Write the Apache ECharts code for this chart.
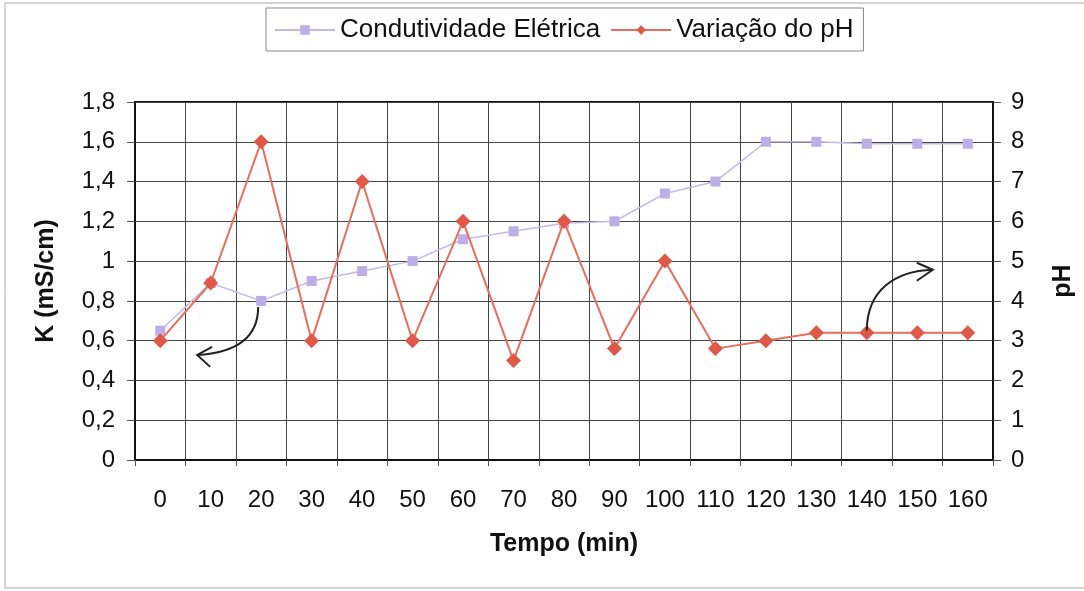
<!DOCTYPE html>
<html>
<head>
<meta charset="utf-8">
<script src="https://cdn.jsdelivr.net/npm/echarts@6/dist/echarts.min.js"></script>
<style>
html,body{margin:0;padding:0;background:#fff;}
#c{width:1084px;height:591px;}
</style>
</head>
<body>
<div id="c"></div>
<script>
const categories = ['0','10','20','30','40','50','60','70','80','90','100','110','120','130','140','150','160'];
const condutividade = [0.65,0.89,0.80,0.90,0.95,1.00,1.11,1.15,1.19,1.20,1.34,1.40,1.60,1.60,1.59,1.59,1.59];
const ph = [3.0,4.45,8.0,3.0,7.0,3.0,6.0,2.5,6.0,2.8,5.0,2.8,3.0,3.2,3.2,3.2,3.2];
const leftTicks = {min:0, max:1.8, interval:0.2};
const rightTicks = {min:0, max:9, interval:1};

const FONT = 'Liberation Sans, Arial, sans-serif';
const chart = echarts.init(document.getElementById('c'), null, {renderer:'canvas'});
const fmt = v => String(+v.toFixed(1)).replace('.', ',');

chart.setOption({
  animation:false,
  backgroundColor:'#fff',
  textStyle:{fontFamily:FONT},
  legend:{
    left:266, top:8,
    padding:[9,10,8,8],
    itemGap:10,
    itemWidth:60, itemHeight:12,
    borderColor:'#8a8a8a', borderWidth:1,
    textStyle:{fontFamily:FONT, fontSize:26, color:'#111'},
    data:['Condutividade Elétrica','Variação do pH']
  },
  grid:{left:135, right:91, top:102, bottom:131, show:true, borderColor:'#111', borderWidth:2, containLabel:false},
  xAxis:{
    type:'category', data:categories, boundaryGap:true,
    name:'Tempo (min)', nameLocation:'middle', nameGap:72,
    nameTextStyle:{fontFamily:FONT, fontSize:25, fontWeight:'bold', color:'#111'},
    axisLine:{lineStyle:{color:'#111', width:2}},
    axisTick:{show:true, interval:0, length:6, lineStyle:{color:'#555'}},
    axisLabel:{interval:0, fontFamily:FONT, fontSize:24, color:'#111', margin:28},
    splitLine:{show:true, interval:0, lineStyle:{color:'#444', width:1}}
  },
  yAxis:[{
    type:'value', min:leftTicks.min, max:leftTicks.max, interval:leftTicks.interval,
    name:'K (mS/cm)', nameLocation:'middle', nameGap:76, nameRotate:90,
    nameTextStyle:{fontFamily:FONT, fontSize:25, fontWeight:'bold', color:'#111'},
    axisLine:{show:true, lineStyle:{color:'#111', width:2}},
    axisTick:{show:true, length:8, lineStyle:{color:'#555'}},
    axisLabel:{fontFamily:FONT, fontSize:24, color:'#111', margin:20, formatter:fmt},
    splitLine:{show:true, lineStyle:{color:'#444', width:1}}
  },{
    type:'value', position:'right', min:rightTicks.min, max:rightTicks.max, interval:rightTicks.interval,
    name:'pH', nameLocation:'middle', nameGap:58, nameRotate:90,
    nameTextStyle:{fontFamily:FONT, fontSize:25, fontWeight:'bold', color:'#111'},
    axisLine:{show:true, lineStyle:{color:'#111', width:2}},
    axisTick:{show:true, length:8, lineStyle:{color:'#555'}},
    axisLabel:{fontFamily:FONT, fontSize:24, color:'#111', margin:18},
    splitLine:{show:false}
  }],
  series:[{
    name:'Condutividade Elétrica', type:'line', yAxisIndex:0, data:condutividade,
    symbol:'rect', symbolSize:10,
    itemStyle:{color:'#bcaee6'},
    lineStyle:{color:'#c4b8e6', width:1.5},
    z:3
  },{
    name:'Variação do pH', type:'line', yAxisIndex:1, data:ph,
    symbol:'diamond', symbolSize:15,
    itemStyle:{color:'#e05848'},
    lineStyle:{color:'#e86e5c', width:2},
    z:4
  }]
});

// Annotation arrows anchored on data points
const a1 = chart.convertToPixel({xAxisIndex:0, yAxisIndex:0}, [2, condutividade[2]]);
const a2 = chart.convertToPixel({xAxisIndex:0, yAxisIndex:1}, [14, ph[14]]);
const arrowStyle = {stroke:'#222', lineWidth:2, fill:null};
function arrow(p0, c1, c2, e, l1, l2){
  return [
    {type:'bezierCurve', shape:{x1:p0[0],y1:p0[1],cpx1:c1[0],cpy1:c1[1],cpx2:c2[0],cpy2:c2[1],x2:e[0],y2:e[1]}, style:arrowStyle, z:10},
    {type:'polyline', shape:{points:[l1, e, l2]}, style:arrowStyle, z:10}
  ];
}
const g = [];
{
  const x=a1[0], y=a1[1];
  g.push(...arrow([x-3,y+6],[x-3,y+40],[x-30,y+52],[x-64,y+54],[x-49,y+46],[x-51,y+66]));
}
{
  const x=a2[0], y=a2[1];
  g.push(...arrow([x,y-2],[x,y-42],[x+28,y-62],[x+66,y-63],[x+50,y-70],[x+50,y-52]));
}
g.push({type:'rect', shape:{x:5,y:3,width:1090,height:585}, style:{stroke:'#aaa', lineWidth:1, fill:null}, z:0, silent:true});
chart.setOption({graphic:g});
</script>
</body>
</html>
